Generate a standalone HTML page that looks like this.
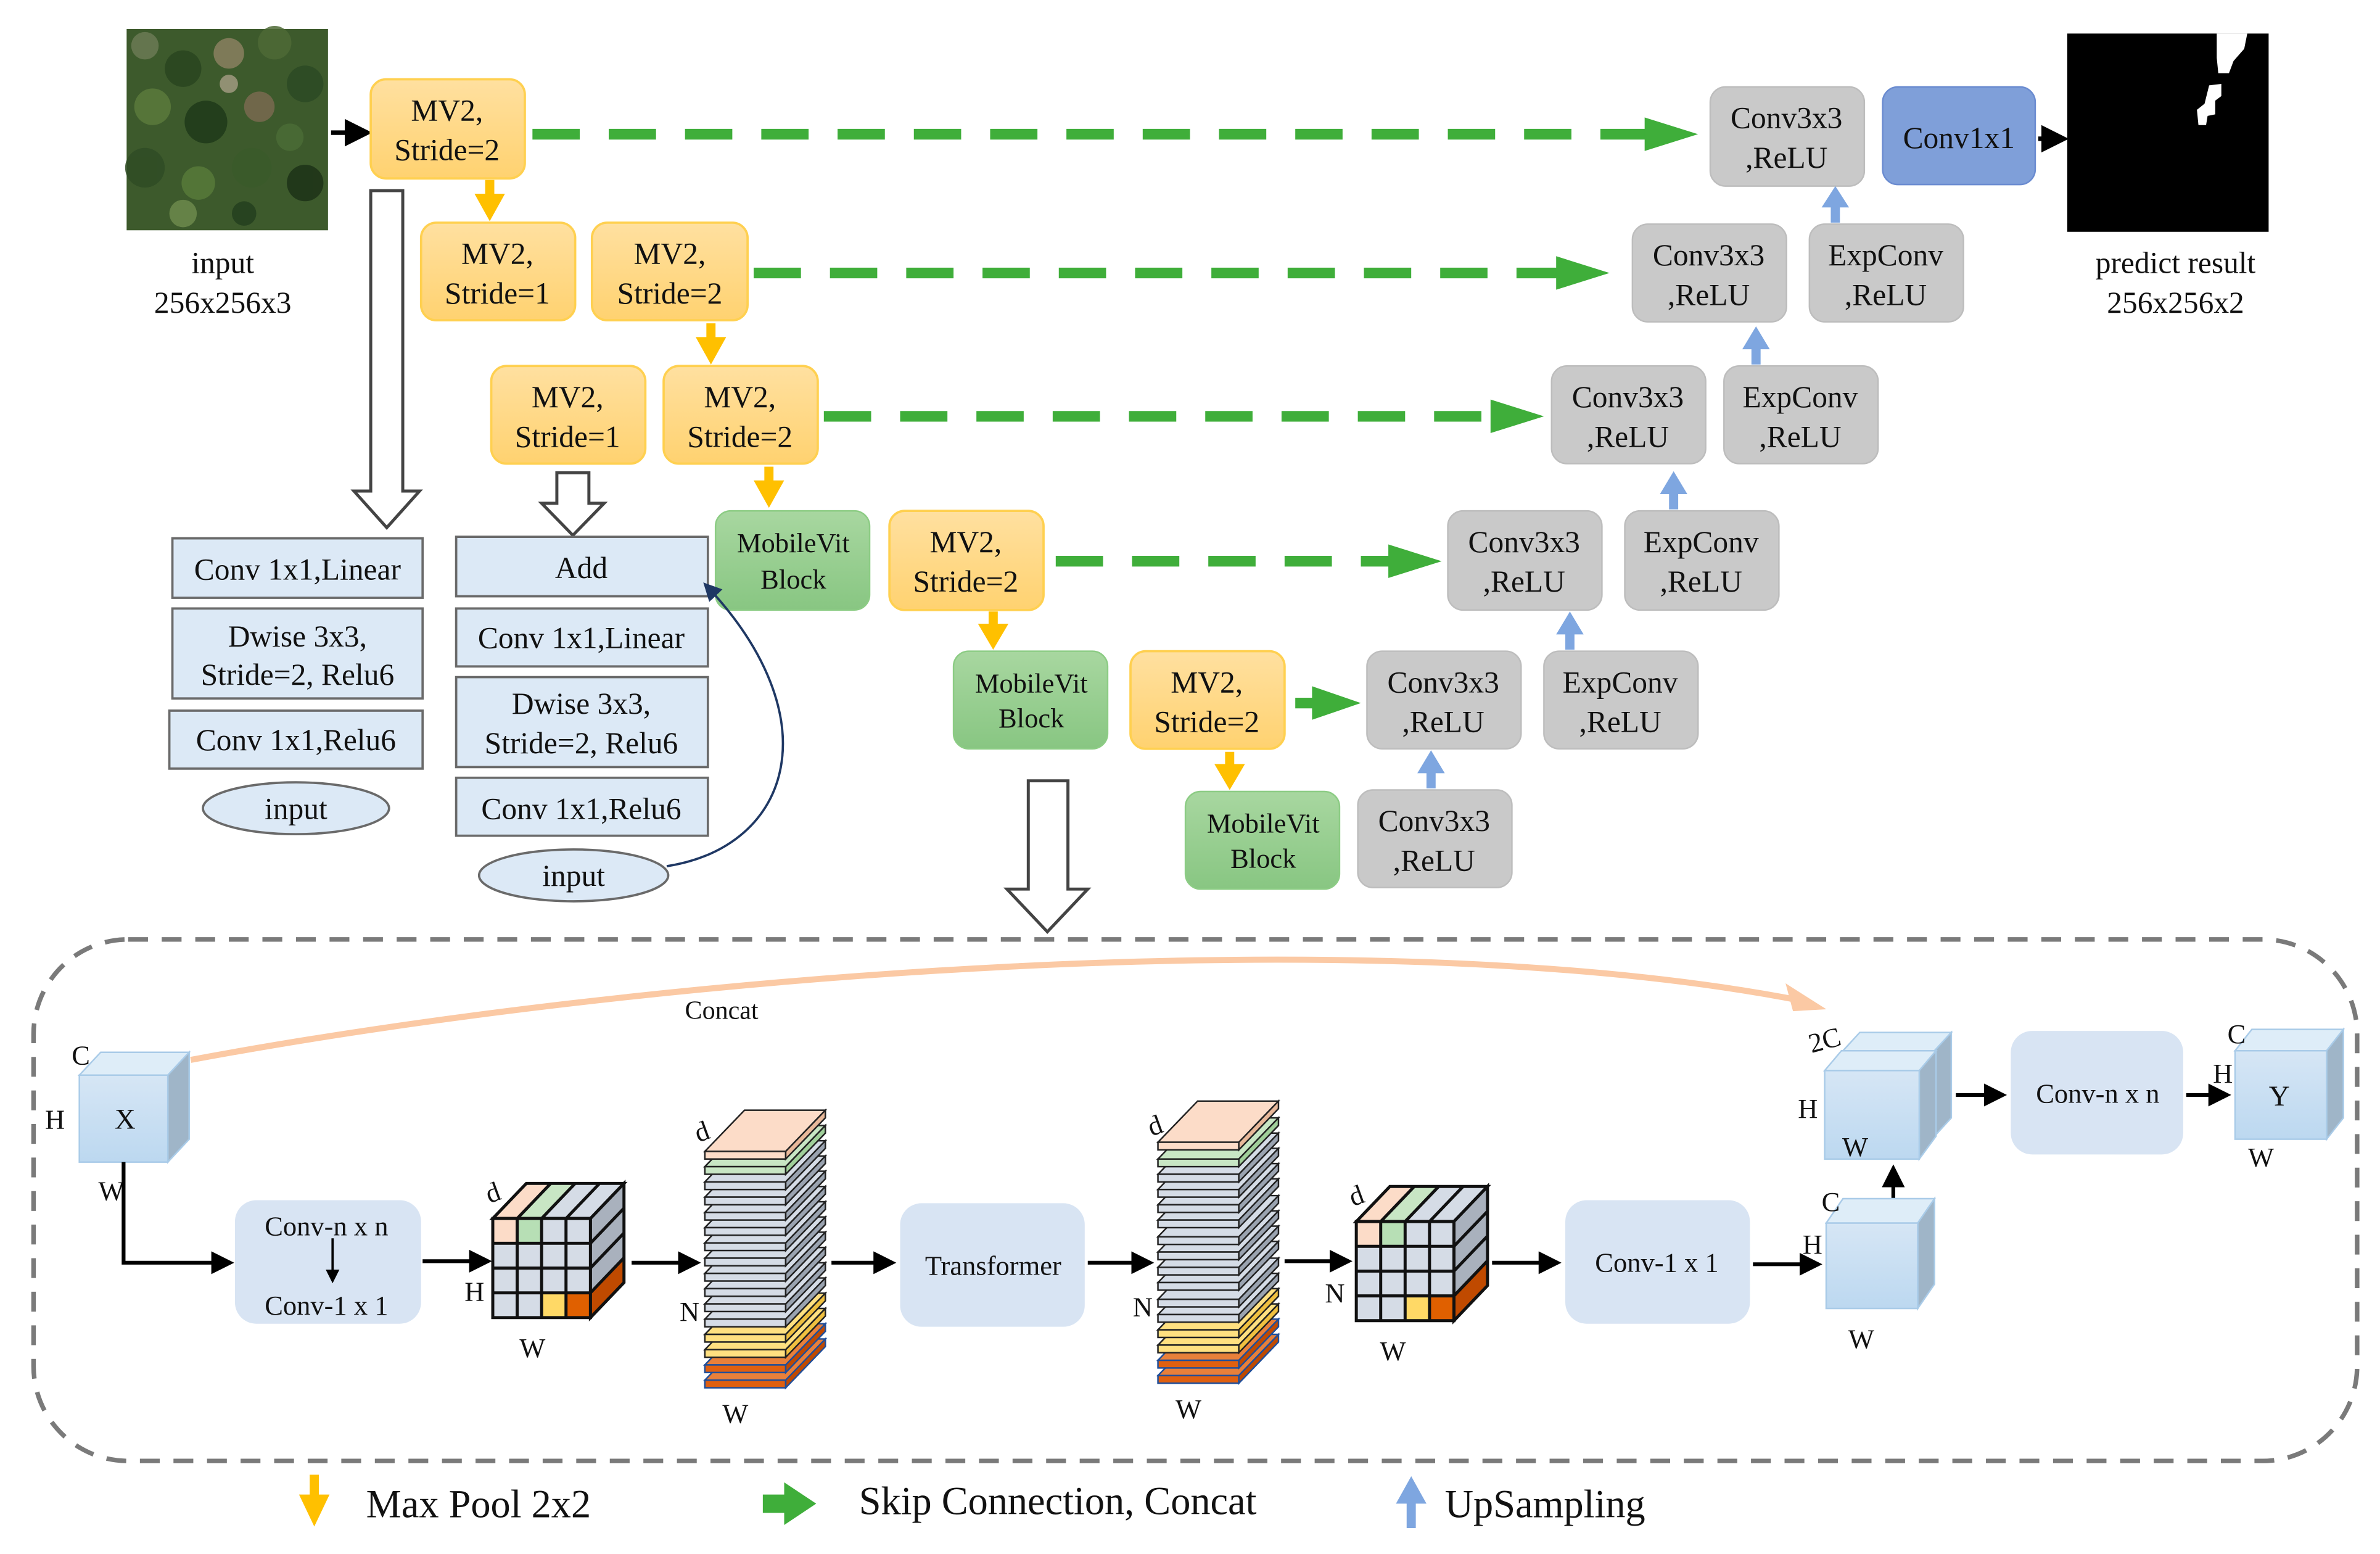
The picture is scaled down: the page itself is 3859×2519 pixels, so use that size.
<!DOCTYPE html>
<html><head><meta charset="utf-8"><style>
html,body{margin:0;padding:0;background:#fff;}
svg{display:block;}
text{font-family:"Liberation Serif",serif;fill:#111;}
</style></head><body>
<svg width="3859" height="2519" viewBox="0 0 1560 1019" preserveAspectRatio="none" xmlns="http://www.w3.org/2000/svg">
<defs>
<linearGradient id="og" x1="0" y1="0" x2="0" y2="1"><stop offset="0" stop-color="#ffe0a0"/><stop offset="1" stop-color="#ffd270"/></linearGradient>
<linearGradient id="gg" x1="0" y1="0" x2="0" y2="1"><stop offset="0" stop-color="#a8d7a0"/><stop offset="1" stop-color="#88c682"/></linearGradient>
<linearGradient id="cg" x1="0" y1="0" x2="0" y2="1"><stop offset="0" stop-color="#d6e6f5"/><stop offset="1" stop-color="#bcd8f0"/></linearGradient>
<marker id="ab" markerWidth="6" markerHeight="6" refX="5" refY="3" orient="auto" markerUnits="strokeWidth"><path d="M0,0 L6,3 L0,6 z" fill="#000"/></marker>
<marker id="an" markerWidth="8" markerHeight="8" refX="7" refY="4" orient="auto" markerUnits="strokeWidth"><path d="M0,0 L8,4 L0,8 z" fill="#1f3864"/></marker>
<g id="sg"><path d="M0,0 L53,0 L79,-27 L26,-27 z" fill="#d5dce6" stroke="#222" stroke-width="1"/><rect x="0" y="0" width="53" height="5" fill="#d5dce6" stroke="#222" stroke-width="1"/><path d="M53,0 L79,-27 L79,-22 L53,5 z" fill="#9aa3b0" stroke="#222" stroke-width="1"/></g>
<g id="sp"><path d="M0,0 L53,0 L79,-27 L26,-27 z" fill="#fcdcc8" stroke="#222" stroke-width="1"/><rect x="0" y="0" width="53" height="5" fill="#fcdcc8" stroke="#222" stroke-width="1"/><path d="M53,0 L79,-27 L79,-22 L53,5 z" fill="#e8b89a" stroke="#222" stroke-width="1"/></g>
<g id="sgr"><path d="M0,0 L53,0 L79,-27 L26,-27 z" fill="#c8e6c4" stroke="#222" stroke-width="1"/><rect x="0" y="0" width="53" height="5" fill="#c8e6c4" stroke="#222" stroke-width="1"/><path d="M53,0 L79,-27 L79,-22 L53,5 z" fill="#a0cf9a" stroke="#222" stroke-width="1"/></g>
<g id="sy"><path d="M0,0 L53,0 L79,-27 L26,-27 z" fill="#ffe080" stroke="#222" stroke-width="1"/><rect x="0" y="0" width="53" height="5" fill="#ffe080" stroke="#222" stroke-width="1"/><path d="M53,0 L79,-27 L79,-22 L53,5 z" fill="#f0c040" stroke="#222" stroke-width="1"/></g>
<g id="so"><path d="M0,0 L53,0 L79,-27 L26,-27 z" fill="#e8803a" stroke="#1f4e9a" stroke-width="1"/><rect x="0" y="0" width="53" height="5" fill="#e06010" stroke="#1f4e9a" stroke-width="1"/><path d="M53,0 L79,-27 L79,-22 L53,5 z" fill="#c04a00" stroke="#1f4e9a" stroke-width="1"/></g>
<g id="grid">
<path d="M0,0 L64,0 L86,-23 L22,-23 z" fill="#d5dce6"/>
<path d="M0,0 L16,0 L38,-23 L22,-23 z" fill="#fcdcc8"/>
<path d="M16,0 L32,0 L54,-23 L38,-23 z" fill="#c8e6c4"/>
<path d="M0,0 L64,0 L86,-23 L22,-23 z M16,0 L38,-23 M32,0 L54,-23 M48,0 L70,-23" fill="none" stroke="#111" stroke-width="2"/>
<path d="M64,0 L86,-23 L86,42 L64,65 z" fill="#a9b1bd"/>
<path d="M64,48.75 L86,25.75 L86,42 L64,65 z" fill="#c04a00"/>
<path d="M64,0 L86,-23 L86,42 L64,65 z M64,16.25 L86,-6.75 M64,32.5 L86,9.5 M64,48.75 L86,25.75" fill="none" stroke="#111" stroke-width="2"/>
<rect x="0" y="0" width="64" height="65" fill="#d5dce6"/>
<rect x="0" y="0" width="16" height="16.25" fill="#fcdcc8"/>
<rect x="16" y="0" width="16" height="16.25" fill="#b7dfb5"/>
<rect x="32" y="48.75" width="16" height="16.25" fill="#ffd966"/>
<rect x="48" y="48.75" width="16" height="16.25" fill="#e06000"/>
<path d="M0,0 H64 V65 H0 z M16,0 V65 M32,0 V65 M48,0 V65 M0,16.25 H64 M0,32.5 H64 M0,48.75 H64" fill="none" stroke="#111" stroke-width="2"/>
</g>
</defs>

<!-- input image -->
<rect x="83" y="19" width="132" height="132" fill="#3d5a2c"/>
<g opacity="0.85">
<circle cx="95" cy="30" r="9" fill="#6b7a55"/><circle cx="120" cy="45" r="12" fill="#2a4520"/><circle cx="150" cy="35" r="10" fill="#8a8060"/><circle cx="180" cy="28" r="11" fill="#4e6a36"/><circle cx="200" cy="55" r="12" fill="#2c4a24"/><circle cx="100" cy="70" r="12" fill="#5b7a3c"/><circle cx="135" cy="80" r="14" fill="#1f3a1a"/><circle cx="170" cy="70" r="10" fill="#7a6a50"/><circle cx="95" cy="110" r="13" fill="#2f4c25"/><circle cx="130" cy="120" r="11" fill="#587a3a"/><circle cx="165" cy="110" r="13" fill="#3a5a2a"/><circle cx="200" cy="120" r="12" fill="#1d3318"/><circle cx="120" cy="140" r="9" fill="#6d8a4c"/><circle cx="190" cy="90" r="9" fill="#4a6c36"/><circle cx="150" cy="55" r="6" fill="#a09a80"/><circle cx="160" cy="140" r="8" fill="#24401e"/>
</g>
<text x="146" y="179" font-size="20" text-anchor="middle">input</text>
<text x="146" y="205" font-size="20" text-anchor="middle">256x256x3</text>
<line x1="217" y1="87" x2="241" y2="87" stroke="#000" stroke-width="3" marker-end="url(#ab)"/>

<!-- output -->
<rect x="1355" y="22" width="132" height="130" fill="#000"/>
<path d="M1453,22 L1473,22 L1471,32 L1464,40 L1461,48 L1454,48 L1453,38 z" fill="#fff"/>
<path d="M1448,56 L1456,55 L1456,63 L1452,66 L1452,75 L1447,76 L1446,82 L1441,82 L1440,72 L1445,68 z" fill="#fff"/>
<text x="1426" y="179" font-size="20" text-anchor="middle">predict result</text>
<text x="1426" y="205" font-size="20" text-anchor="middle">256x256x2</text>
<line x1="1336" y1="91" x2="1353" y2="91" stroke="#000" stroke-width="3" marker-end="url(#ab)"/>

<!-- orange boxes -->
<g stroke="#ffd050" stroke-width="1.5" fill="url(#og)">
<rect x="243" y="52" width="101" height="65" rx="10"/>
<rect x="276" y="146" width="101" height="64" rx="10"/>
<rect x="388" y="146" width="102" height="64" rx="10"/>
<rect x="322" y="240" width="101" height="64" rx="10"/>
<rect x="435" y="240" width="101" height="64" rx="10"/>
<rect x="583" y="335" width="101" height="65" rx="10"/>
<rect x="741" y="427" width="101" height="64" rx="10"/>
</g>
<g font-size="20" text-anchor="middle">
<text x="293" y="79">MV2,</text><text x="293" y="105">Stride=2</text>
<text x="326" y="173">MV2,</text><text x="326" y="199">Stride=1</text>
<text x="439" y="173">MV2,</text><text x="439" y="199">Stride=2</text>
<text x="372" y="267">MV2,</text><text x="372" y="293">Stride=1</text>
<text x="485" y="267">MV2,</text><text x="485" y="293">Stride=2</text>
<text x="633" y="362">MV2,</text><text x="633" y="388">Stride=2</text>
<text x="791" y="454">MV2,</text><text x="791" y="480">Stride=2</text>
</g>

<!-- yellow arrows -->
<g fill="#ffc000">
<path d="M318,118 h6 v9 h7 l-10,18 l-10,-18 h7 z"/>
<path d="M463,212 h6 v9 h7 l-10,18 l-10,-18 h7 z"/>
<path d="M501,306 h6 v9 h7 l-10,18 l-10,-18 h7 z"/>
<path d="M648,401 h6 v8 h7 l-10,17 l-10,-17 h7 z"/>
<path d="M803,493 h6 v8 h7 l-10,17 l-10,-17 h7 z"/>
</g>

<!-- green boxes -->
<g stroke="#8ccc84" stroke-width="1" fill="url(#gg)">
<rect x="469" y="335" width="101" height="65" rx="10"/>
<rect x="625" y="427" width="101" height="64" rx="10"/>
<rect x="777" y="519" width="101" height="64" rx="10"/>
</g>
<g font-size="18" text-anchor="middle">
<text x="520" y="362">MobileVit</text><text x="520" y="386">Block</text>
<text x="676" y="454">MobileVit</text><text x="676" y="477">Block</text>
<text x="828" y="546">MobileVit</text><text x="828" y="569">Block</text>
</g>

<!-- gray boxes -->
<g stroke="#bdbdbd" stroke-width="1" fill="#c9c9c9">
<rect x="1121" y="57" width="101" height="65" rx="10"/>
<rect x="1070" y="147" width="101" height="64" rx="10"/>
<rect x="1017" y="240" width="101" height="64" rx="10"/>
<rect x="949" y="335" width="101" height="65" rx="10"/>
<rect x="896" y="427" width="101" height="64" rx="10"/>
<rect x="890" y="518" width="101" height="64" rx="10"/>
<rect x="1186" y="147" width="101" height="64" rx="10"/>
<rect x="1130" y="240" width="101" height="64" rx="10"/>
<rect x="1065" y="335" width="101" height="65" rx="10"/>
<rect x="1012" y="427" width="101" height="64" rx="10"/>
</g>
<rect x="1234" y="57" width="100" height="64" rx="10" fill="#7f9fd9" stroke="#6a8bd0"/>
<g font-size="20" text-anchor="middle">
<text x="1171" y="84">Conv3x3</text><text x="1171" y="110">,ReLU</text>
<text x="1120" y="174">Conv3x3</text><text x="1120" y="200">,ReLU</text>
<text x="1067" y="267">Conv3x3</text><text x="1067" y="293">,ReLU</text>
<text x="999" y="362">Conv3x3</text><text x="999" y="388">,ReLU</text>
<text x="946" y="454">Conv3x3</text><text x="946" y="480">,ReLU</text>
<text x="940" y="545">Conv3x3</text><text x="940" y="571">,ReLU</text>
<text x="1236" y="174">ExpConv</text><text x="1236" y="200">,ReLU</text>
<text x="1180" y="267">ExpConv</text><text x="1180" y="293">,ReLU</text>
<text x="1115" y="362">ExpConv</text><text x="1115" y="388">,ReLU</text>
<text x="1062" y="454">ExpConv</text><text x="1062" y="480">,ReLU</text>
<text x="1284" y="97">Conv1x1</text>
</g>

<!-- blue up arrows -->
<g fill="#7ea6e0">
<path d="M1200,146 h6 v-10 h6 l-9,-14 l-9,14 h6 z"/>
<path d="M1148,239 h6 v-10 h6 l-9,-15 l-9,15 h6 z"/>
<path d="M1094,334 h6 v-10 h6 l-9,-15 l-9,15 h6 z"/>
<path d="M1026,426 h6 v-10 h6 l-9,-15 l-9,15 h6 z"/>
<path d="M935,517 h6 v-10 h6 l-9,-15 l-9,15 h6 z"/>
</g>

<!-- green dashed skips -->
<g stroke="#3fae3a" stroke-width="7" stroke-dasharray="31,19" fill="none">
<line x1="349" y1="88" x2="1082" y2="88"/>
<line x1="494" y1="179" x2="1025" y2="179"/>
<line x1="540" y1="273" x2="980" y2="273"/>
<line x1="692" y1="368" x2="915" y2="368"/>
<line x1="849" y1="461" x2="866" y2="461" stroke-dasharray="none"/>
</g>
<g fill="#3fae3a">
<path d="M1078,77 L1113,88 L1078,99 z"/>
<path d="M1020,168 L1055,179 L1020,190 z"/>
<path d="M977,262 L1012,273 L977,284 z"/>
<path d="M910,357 L945,368 L910,379 z"/>
<path d="M860,450 L892,461 L860,472 z"/>
</g>

<!-- hollow arrows -->
<g fill="#fff" stroke="#444" stroke-width="2">
<path d="M243,125 H264 V322 H275 L253.5,346 L232,322 H243 z"/>
<path d="M365,310 H386 V330 H396 L375.5,351 L355,330 H365 z"/>
<path d="M674,512 H700 V583 H713 L686.5,611 L660,583 H674 z"/>
</g>

<!-- MV2 detail boxes -->
<g fill="#dce9f6" stroke="#6a6a6a" stroke-width="1.5">
<rect x="113" y="353" width="164" height="39"/>
<rect x="113" y="399" width="164" height="59"/>
<rect x="111" y="466" width="166" height="38"/>
<ellipse cx="194" cy="530" rx="61" ry="17"/>
<rect x="299" y="352" width="165" height="39"/>
<rect x="299" y="399" width="165" height="38"/>
<rect x="299" y="444" width="165" height="59"/>
<rect x="299" y="510" width="165" height="38"/>
<ellipse cx="376" cy="574" rx="62" ry="17"/>
</g>
<g font-size="20" text-anchor="middle">
<text x="195" y="380">Conv 1x1,Linear</text>
<text x="195" y="424">Dwise 3x3,</text><text x="195" y="449">Stride=2, Relu6</text>
<text x="194" y="492">Conv 1x1,Relu6</text>
<text x="194" y="537">input</text>
<text x="381" y="379">Add</text>
<text x="381" y="425">Conv 1x1,Linear</text>
<text x="381" y="468">Dwise 3x3,</text><text x="381" y="494">Stride=2, Relu6</text>
<text x="381" y="537">Conv 1x1,Relu6</text>
<text x="376" y="581">input</text>
</g>
<path d="M437,568 C520,555 545,470 462,383" fill="none" stroke="#1f3864" stroke-width="1.5" marker-end="url(#an)"/>

<!-- dashed container -->
<rect x="22" y="616" width="1523" height="342" rx="62" fill="none" stroke="#7a7a7a" stroke-width="3" stroke-dasharray="13,9"/>

<!-- concat curve -->
<path d="M125,695 C420,640 900,600 1185,657" fill="none" stroke="#fbc9a4" stroke-width="4"/>
<path d="M1172,647 L1194,661 L1176,662 z" fill="#fbc9a4" stroke="#fbc9a4" stroke-width="2"/>
<text x="473" y="668" font-size="17" text-anchor="middle">Concat</text>

<!-- X cube -->
<path d="M52,705 L66,690 L124,690 L110,705 z" fill="#deedf8" stroke="#a9cbe8"/>
<path d="M110,705 L124,690 L124,747 L110,762 z" fill="#9fb5c8" stroke="#a9cbe8"/>
<rect x="52" y="705" width="58" height="57" fill="url(#cg)" stroke="#a9cbe8"/>
<g font-size="18" text-anchor="middle">
<text x="53" y="698">C</text><text x="36" y="740">H</text><text x="82" y="740" font-size="19">X</text><text x="73" y="787">W</text>
</g>
<path d="M81,762 V828 H151" fill="none" stroke="#000" stroke-width="2.5" marker-end="url(#ab)"/>

<!-- conv boxes -->
<g fill="#d8e4f3">
<rect x="154" y="787" width="122" height="81" rx="14"/>
<rect x="590" y="789" width="121" height="81" rx="14"/>
<rect x="1026" y="787" width="121" height="81" rx="14"/>
<rect x="1318" y="676" width="113" height="81" rx="14"/>
</g>
<g font-size="18" text-anchor="middle">
<text x="214" y="810">Conv-n x n</text><text x="214" y="862">Conv-1 x 1</text>
<text x="651" y="836">Transformer</text>
<text x="1086" y="834">Conv-1 x 1</text>
<text x="1375" y="723">Conv-n x n</text>
</g>
<line x1="218" y1="812" x2="218" y2="840" stroke="#000" stroke-width="1.5" marker-end="url(#ab)"/>

<!-- arrows row -->
<g stroke="#000" stroke-width="2.5" marker-end="url(#ab)">
<line x1="277" y1="827" x2="320" y2="827"/>
<line x1="414" y1="828" x2="457" y2="828"/>
<line x1="545" y1="828" x2="585" y2="828"/>
<line x1="713" y1="828" x2="754" y2="828"/>
<line x1="842" y1="827" x2="884" y2="827"/>
<line x1="978" y1="828" x2="1021" y2="828"/>
<line x1="1149" y1="829" x2="1192" y2="829"/>
<line x1="1241" y1="795" x2="1241" y2="766"/>
<line x1="1282" y1="718" x2="1313" y2="718"/>
<line x1="1433" y1="718" x2="1460" y2="718"/>
</g>

<!-- grid cubes -->
<use href="#grid" x="323" y="799"/>
<use href="#grid" x="889" y="801"/>
<g font-size="18" text-anchor="middle">
<text x="323" y="788" transform="rotate(-20 323 782)">d</text><text x="311" y="853">H</text><text x="349" y="890">W</text>
<text x="889" y="790" transform="rotate(-20 889 784)">d</text><text x="875" y="854">N</text><text x="913" y="892">W</text>
</g>

<!-- stacks -->
<g transform="translate(462,0)">
<use href="#so" y="905"/><use href="#so" y="895"/><use href="#sy" y="885"/><use href="#sy" y="875"/>
<use href="#sg" y="865"/><use href="#sg" y="855"/><use href="#sg" y="845"/><use href="#sg" y="835"/><use href="#sg" y="825"/><use href="#sg" y="815"/><use href="#sg" y="805"/><use href="#sg" y="795"/><use href="#sg" y="785"/><use href="#sg" y="775"/>
<use href="#sgr" y="765"/><use href="#sp" y="755"/>
</g>
<g transform="translate(759,0)">
<use href="#so" y="902"/><use href="#so" y="892"/><use href="#sy" y="882"/><use href="#sy" y="872"/>
<use href="#sg" y="862"/><use href="#sg" y="852"/><use href="#sg" y="841"/><use href="#sg" y="831"/><use href="#sg" y="821"/><use href="#sg" y="811"/><use href="#sg" y="800"/><use href="#sg" y="790"/><use href="#sg" y="780"/><use href="#sg" y="770"/>
<use href="#sgr" y="760"/><use href="#sp" y="749"/>
</g>
<g font-size="18" text-anchor="middle">
<text x="460" y="748" transform="rotate(-20 460 742)">d</text><text x="452" y="866">N</text><text x="482" y="933">W</text>
<text x="757" y="744" transform="rotate(-20 757 738)">d</text><text x="749" y="863">N</text><text x="779" y="930">W</text>
</g>

<!-- small cube (C,H,W) -->
<path d="M1197,802 L1208,786 L1268,786 L1257,802 z" fill="#deedf8" stroke="#a9cbe8"/>
<path d="M1257,802 L1268,786 L1268,842 L1257,858 z" fill="#9fb5c8" stroke="#a9cbe8"/>
<rect x="1197" y="802" width="60" height="56" fill="url(#cg)" stroke="#a9cbe8"/>
<!-- 2C cube -->
<path d="M1208,689 L1219,677 L1279,677 L1268,689 z" fill="#deedf8" stroke="#a9cbe8"/>
<path d="M1268,689 L1279,677 L1279,733 L1268,745 z" fill="#9fb5c8" stroke="#a9cbe8"/>
<path d="M1196,702 L1207,689 L1269,689 L1258,702 z" fill="#deedf8" stroke="#a9cbe8"/>
<path d="M1258,702 L1269,689 L1269,745 L1258,760 z" fill="#9fb5c8" stroke="#a9cbe8"/>
<rect x="1196" y="702" width="62" height="58" fill="url(#cg)" stroke="#a9cbe8"/>
<!-- Y cube -->
<path d="M1465,689 L1476,675 L1536,675 L1525,689 z" fill="#deedf8" stroke="#a9cbe8"/>
<path d="M1525,689 L1536,675 L1536,733 L1525,747 z" fill="#9fb5c8" stroke="#a9cbe8"/>
<rect x="1465" y="689" width="60" height="58" fill="url(#cg)" stroke="#a9cbe8"/>
<g font-size="18" text-anchor="middle">
<text x="1200" y="794">C</text><text x="1188" y="822">H</text><text x="1220" y="884">W</text>
<text x="1196" y="688" transform="rotate(-15 1196 682)">2C</text><text x="1185" y="733">H</text><text x="1216" y="758">W</text>
<text x="1466" y="684">C</text><text x="1457" y="710">H</text><text x="1494" y="725" font-size="19">Y</text><text x="1482" y="765">W</text>
</g>

<!-- legend -->
<path d="M203,967 h6 v13 h7 l-10,21 l-10,-21 h7 z" fill="#ffc000"/>
<text x="240" y="995" font-size="26">Max Pool 2x2</text>
<path d="M500,980 h14 v-8 l21,14 l-21,14 v-8 h-14 z" fill="#3fae3a"/>
<text x="563" y="993" font-size="26">Skip Connection, Concat</text>
<path d="M922,1002 h6 v-16 h7 l-10,-18 l-10,18 h7 z" fill="#7ea6e0"/>
<text x="947" y="995" font-size="26">UpSampling</text>
</svg>
</body></html>
